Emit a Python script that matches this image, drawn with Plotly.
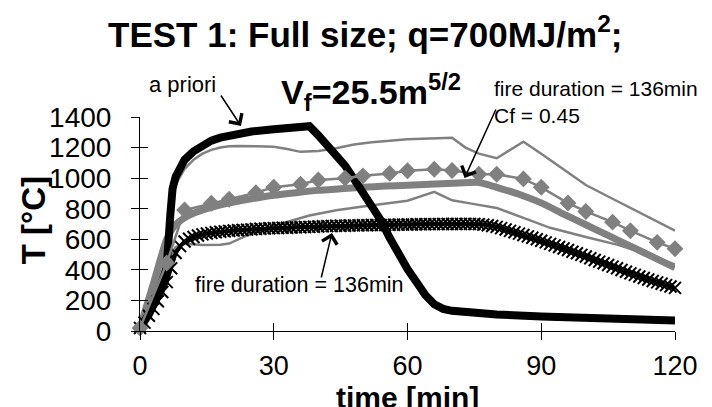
import plotly.graph_objects as go

# ---------------- data ----------------
t_apriori = [0, 2, 4, 6, 6.8, 7.3, 8, 9, 10, 12, 14, 16, 18, 20, 22, 25, 30, 35, 38,
             40, 42, 44, 46, 48, 50, 52, 54, 56, 58, 60, 62, 64, 66, 68, 70, 75, 80,
             90, 100, 110, 120]
T_apriori = [20, 110, 230, 420, 760, 930, 1010, 1075, 1120, 1175, 1215, 1245, 1265, 1280,
             1295, 1305, 1320, 1332, 1340, 1280, 1215, 1150, 1082, 995, 910, 820, 725,
             610, 500, 405, 320, 235, 175, 145, 132, 118, 108, 95, 85, 75, 68]

t_upper = [0, 3, 6, 7, 8, 10, 12, 14, 16, 18, 20, 22, 26, 30, 33, 36, 40, 44, 48, 52,
           56, 60, 65, 70, 73, 76, 80, 86, 90, 95, 100, 105, 110, 115, 120]
T_upper = [20, 200, 600, 880, 960, 1060, 1120, 1160, 1185, 1200, 1208, 1210, 1208, 1205,
           1190, 1172, 1178, 1195, 1220, 1235, 1245, 1255, 1260, 1264, 1200, 1160, 1130,
           1238, 1160, 1060, 955, 880, 805, 730, 656]

t_lower = [0, 3, 6, 8, 10, 14, 18, 20, 24, 28, 32, 38, 44, 50, 56, 60, 66, 70, 75, 80,
           86, 92, 100, 107, 114, 120]
T_lower = [20, 200, 450, 550, 570, 562, 565, 572, 625, 665, 705, 755, 790, 815, 840, 852,
           910, 855, 830, 805, 740, 675, 615, 565, 500, 434]

t_model = [0, 3, 6, 8, 10, 12, 15, 20, 25, 30, 35, 40, 45, 50, 55, 60, 65, 70, 76, 78,
           80, 85, 90, 95, 100, 105, 110, 115, 120]
T_model = [20, 310, 600, 695, 740, 770, 800, 838, 865, 888, 905, 920, 930, 940, 948, 953,
           960, 966, 972, 958, 940, 895, 838, 765, 695, 625, 555, 485, 414]

t_avg = [0, 6, 10, 16, 20, 26, 30, 36, 40, 46, 50, 56, 60, 66, 70, 76, 80, 86, 90, 96,
         100, 106, 110, 116, 120]
T_avg = [20, 445, 792, 836, 862, 905, 940, 960, 988, 1000, 1015, 1031, 1048, 1058, 1050,
         1025, 1025, 995, 940, 837, 782, 712, 656, 580, 538]

t_fd = list(range(0, 121))
T_fd = [20, 55, 100, 145, 195, 255, 320, 410, 510, 555, 585, 603, 615, 625, 632, 638,
        642, 646, 649, 652, 655, 657, 659, 661, 663, 665, 667, 669, 670, 672, 673, 674,
        675, 676, 677, 678, 679, 680, 681, 682, 684, 685, 686, 687, 688, 689, 689, 690,
        691, 691, 692, 692, 693, 693, 694, 694, 695, 695, 696, 696, 697, 697, 698, 698,
        698, 699, 699, 699, 700, 700, 700, 700, 700, 701, 701, 700, 699, 696, 692, 687,
        681, 673, 664, 655, 646, 637, 628, 619, 610, 600, 590, 580, 570, 560, 550, 540,
        530, 519, 509, 498, 487, 476, 465, 454, 443, 432, 421, 410, 399, 388, 377, 367,
        357, 347, 337, 327, 318, 309, 300, 291, 282]

x_ticks = [0, 30, 60, 90, 120]
y_ticks = [0, 200, 400, 600, 800, 1000, 1200, 1400]

GRAY = "#808080"
FONT = "Liberation Sans"

fig = go.Figure()
fig.add_trace(go.Scatter(x=t_upper, y=T_upper, mode="lines",
                         line=dict(color=GRAY, width=2.5), cliponaxis=False))
fig.add_trace(go.Scatter(x=t_lower, y=T_lower, mode="lines",
                         line=dict(color=GRAY, width=2.5), cliponaxis=False))
fig.add_trace(go.Scatter(x=t_model, y=T_model, mode="lines",
                         line=dict(color=GRAY, width=7, shape="spline", smoothing=0.6),
                         cliponaxis=False))
fig.add_trace(go.Scatter(x=t_fd, y=T_fd, mode="lines+markers",
                         line=dict(color="black", width=4),
                         marker=dict(symbol="x-thin", size=12, color="black",
                                     line=dict(color="black", width=2)),
                         cliponaxis=False))
fig.add_trace(go.Scatter(x=t_apriori, y=T_apriori, mode="lines",
                         line=dict(color="black", width=8), cliponaxis=False))
fig.add_trace(go.Scatter(x=t_avg, y=T_avg, mode="lines+markers",
                         line=dict(color=GRAY, width=2.5),
                         marker=dict(symbol="diamond", size=13, color=GRAY),
                         cliponaxis=False))
# helper trace so the overlay axes (for crossing ticks) are drawn
fig.add_trace(go.Scatter(x=[x_ticks[0]], y=[y_ticks[0]], xaxis="x2", yaxis="y2",
                         mode="markers", marker=dict(opacity=0), hoverinfo="skip"))

axis_common = dict(showgrid=False, zeroline=False, showline=True, linecolor="black",
                   linewidth=1, tickcolor="black", tickwidth=1, ticklen=8)

fig.update_layout(
    width=712, height=407,
    margin=dict(l=132, r=45, t=109, b=84),
    paper_bgcolor="white", plot_bgcolor="white",
    showlegend=False,
    font=dict(family=FONT, color="black"),
    xaxis=dict(range=[0, 120], tickvals=x_ticks, ticks="outside",
               tickfont=dict(size=27, family=FONT), ticklabelstandoff=3,
               **axis_common),
    yaxis=dict(range=[0, 1400], tickvals=y_ticks, ticks="outside",
               tickfont=dict(size=28, family=FONT), ticklabelstandoff=14,
               **axis_common),
    xaxis2=dict(range=[0, 120], tickvals=x_ticks, ticks="inside", overlaying="x",
                anchor="y2", showticklabels=False, **axis_common),
    yaxis2=dict(range=[0, 1400], tickvals=y_ticks, ticks="inside", overlaying="y",
                anchor="x2", showticklabels=False, **axis_common),
)

ann = []
ann.append(dict(text="<b>TEST 1: Full size; q=700MJ/m<sup>2</sup>;</b>", xref="paper", yref="paper",
                x=0.421, y=1.398, xanchor="center", yanchor="middle", showarrow=False,
                font=dict(size=35, family=FONT)))
ann.append(dict(text="<b>V<sub>f</sub>=25.5m<sup>5/2</sup></b>", xref="paper", yref="paper",
                x=0.432, y=1.118, xanchor="center", yanchor="middle", showarrow=False,
                font=dict(size=34, family=FONT)))
ann.append(dict(text="a priori", xref="paper", yref="paper", x=0.079, y=1.15,
                xanchor="center", yanchor="middle", showarrow=False,
                font=dict(size=22, family=FONT)))
ann.append(dict(text="fire duration = 136min<br>Cf = 0.45", xref="paper", yref="paper",
                x=0.6580, y=1.195, xanchor="left", yanchor="top", align="left",
                showarrow=False, font=dict(size=21, family=FONT)))
ann.append(dict(text="fire duration = 136min", xref="paper", yref="paper", x=0.298,
                y=0.215, xanchor="center", yanchor="middle", showarrow=False,
                font=dict(size=21.5, family=FONT)))
ann.append(dict(text="<b>T [°C]</b>", xref="paper", yref="paper", x=-0.199, y=0.515,
                xanchor="center", yanchor="middle", textangle=-90, showarrow=False,
                font=dict(size=33, family=FONT)))
ann.append(dict(text="<b>time [min]</b>", xref="paper", yref="paper", x=0.5, y=-0.31,
                xanchor="center", yanchor="middle", showarrow=False,
                font=dict(size=30, family=FONT)))
# arrows
arrow_style = dict(showarrow=True, arrowhead=4, arrowsize=2, arrowwidth=1.5,
                   arrowcolor="black", text="", xref="x", yref="y", standoff=0)
ann.append(dict(x=22.65, y=1341, ax=-21, ay=-32, **arrow_style))
ann.append(dict(x=72.8, y=1001, ax=32, ay=-70, **arrow_style))
ann.append(dict(x=43.05, y=641, ax=-11, ay=46, **arrow_style))
fig.update_layout(annotations=ann)

fig.write_html("out.html")
